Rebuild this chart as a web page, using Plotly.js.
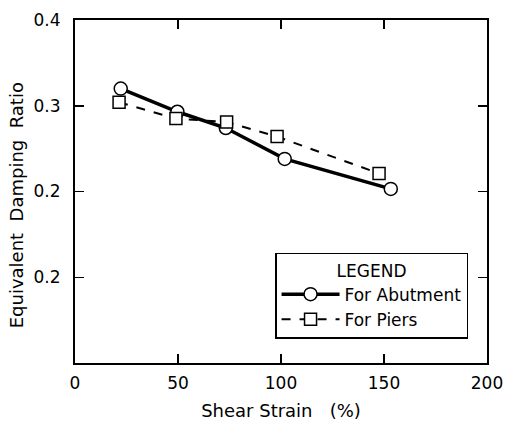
<!DOCTYPE html>
<html>
<head>
<meta charset="utf-8">
<script src="https://cdn.plot.ly/plotly-3.0.1.min.js"></script>
<style>html,body{margin:0;padding:0;background:#fff;}#chart{width:507px;height:426px;}</style>
</head>
<body>
<div id="chart"></div>
<script>
var abutmentStrain = [22.2, 49.7, 73.2, 101.8, 153.3];
var abutmentDamping = [0.320, 0.293, 0.274, 0.238, 0.203];
var piersStrain = [21.4, 49.0, 73.6, 98.1, 147.6];
var piersDamping = [0.304, 0.285, 0.281, 0.264, 0.221];
var xTickVals = [0, 50, 100, 150, 200];
var xTickText = ["0", "50", "100", "150", "200"];
var yTickVals = [0.1, 0.2, 0.3, 0.4];
var yTickText = ["0.2", "0.2", "0.3", "0.4"];
var yTitle = "Equivalent\u00a0\u00a0Damping\u00a0\u00a0Ratio";

var font = "DejaVu Sans, Liberation Sans, sans-serif";

var traces = [
  {
    x: abutmentStrain, y: abutmentDamping, name: "For Abutment",
    mode: "lines+markers", type: "scatter",
    line: {color: "#000", width: 3.5},
    marker: {symbol: "circle", size: 13, color: "#fff", line: {color: "#000", width: 1.5}}
  },
  {
    x: piersStrain, y: piersDamping, name: "For Piers",
    mode: "lines+markers", type: "scatter",
    line: {color: "#000", width: 2, dash: "dash"},
    marker: {symbol: "square", size: 12, color: "#fff", line: {color: "#000", width: 1.5}}
  }
];

var layout = {
  width: 507, height: 426,
  margin: {l: 75, r: 20, t: 20, b: 63},
  paper_bgcolor: "#fff", plot_bgcolor: "#fff",
  font: {family: font, color: "#000", size: 16},
  showlegend: true,
  legend: {
    x: 0.954, y: 0.07, xanchor: "right", yanchor: "bottom",
    bordercolor: "#000", borderwidth: 1.5, bgcolor: "#fff",
    font: {family: font, size: 17, color: "#000"},
    title: {text: "LEGEND", side: "top center", font: {family: font, size: 17}},
    tracegroupgap: 0,
    itemwidth: 58
  },
  xaxis: {
    range: [0, 200], tickvals: xTickVals, ticktext: xTickText,
    ticks: "inside", ticklen: 9, tickwidth: 1.5, tickcolor: "#000",
    showline: true, linecolor: "#000", linewidth: 2, mirror: "ticks",
    showgrid: false, zeroline: false, ticklabelstandoff: 4,
    tickfont: {family: font, size: 17},
    title: {text: "Shear Strain\u00a0\u00a0\u00a0(%)", font: {family: font, size: 18}, standoff: 12}
  },
  yaxis: {
    range: [0, 0.4], tickvals: yTickVals, ticktext: yTickText,
    ticks: "inside", ticklen: 9, tickwidth: 1.5, tickcolor: "#000",
    showline: true, linecolor: "#000", linewidth: 2, mirror: "ticks",
    showgrid: false, zeroline: false, ticklabelstandoff: 9,
    tickfont: {family: font, size: 17}
  },
  annotations: [{
    text: yTitle, xref: "paper", yref: "paper",
    x: -0.143, y: 0.46, xanchor: "center", yanchor: "middle",
    textangle: -90, showarrow: false,
    font: {family: font, size: 18, color: "#000"}
  }]
};

Plotly.newPlot("chart", traces, layout, {displayModeBar: false, staticPlot: true});
</script>
</body>
</html>
